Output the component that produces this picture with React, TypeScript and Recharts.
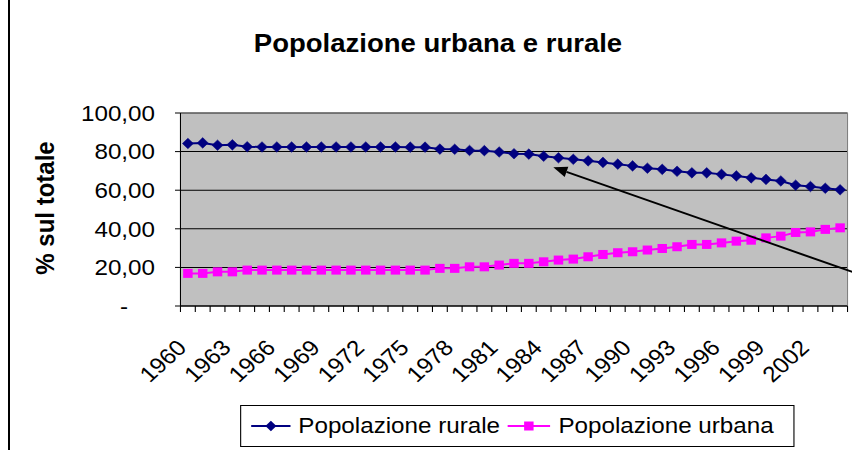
import React from 'react';
import { LineChart, Line, XAxis, YAxis, CartesianGrid, ReferenceLine, Legend } from 'recharts';

const years = [
  1960, 1961, 1962, 1963, 1964, 1965, 1966, 1967, 1968, 1969,
  1970, 1971, 1972, 1973, 1974, 1975, 1976, 1977, 1978, 1979,
  1980, 1981, 1982, 1983, 1984, 1985, 1986, 1987, 1988, 1989,
  1990, 1991, 1992, 1993, 1994, 1995, 1996, 1997, 1998, 1999,
  2000, 2001, 2002, 2003, 2004,
];
const rural = [
  84.2, 84.5, 83.3, 83.5, 82.5, 82.4, 82.4, 82.4, 82.4, 82.4,
  82.4, 82.4, 82.4, 82.4, 82.4, 82.3, 82.3, 81.3, 81.2, 80.6,
  80.5, 79.8, 78.9, 78.7, 77.6, 76.8, 76.0, 75.2, 74.4, 73.5,
  72.6, 71.4, 70.8, 69.8, 69.0, 69.0, 68.2, 67.4, 66.4, 65.6,
  64.8, 62.6, 61.9, 61.0, 60.2,
];
const urban = [
  16.9, 16.9, 17.7, 17.7, 18.6, 18.6, 18.6, 18.6, 18.6, 18.6,
  18.6, 18.6, 18.6, 18.6, 18.6, 18.6, 18.6, 19.5, 19.5, 20.3,
  20.3, 21.2, 22.1, 22.1, 22.9, 23.8, 24.3, 25.5, 26.7, 27.6,
  28.1, 29.0, 29.8, 30.7, 31.9, 31.9, 32.7, 33.6, 34.1, 35.3,
  36.2, 38.1, 38.4, 39.7, 40.5,
];
const labelYears = [1960, 1963, 1966, 1969, 1972, 1975, 1978, 1981, 1984, 1987, 1990, 1993, 1996, 1999, 2002];
const yTicks = [0, 20, 40, 60, 80, 100];

const titleText = 'Popolazione urbana e rurale';
const yTitle = '% sul totale';
const ruralName = 'Popolazione rurale';
const urbanName = 'Popolazione urbana';

const ruralColor = '#000080';
const urbanColor = '#FF00FF';
const FONT = '"Liberation Sans", Arial, Helvetica, sans-serif';

const data = years.map((year, i) => ({ year, rural: rural[i], urban: urban[i] }));
const boundaries = [...years.map((y) => y - 0.5), years[years.length - 1] + 0.5];
const xDomain: [number, number] = [years[0] - 0.5, years[years.length - 1] + 0.5];

const fmt = (v: number) => (v === 0 ? '-' : v.toFixed(2).replace('.', ','));

const Diamond = ({ cx, cy }: any) => {
  if (cx == null || cy == null) return null;
  const rx = 5;
  const ry = 5.3;
  return (
    <polygon
      points={`${cx},${cy - ry} ${cx + rx},${cy} ${cx},${cy + ry} ${cx - rx},${cy}`}
      fill={ruralColor}
      stroke={ruralColor}
      strokeWidth={0.5}
    />
  );
};

const Square = ({ cx, cy }: any) => {
  if (cx == null || cy == null) return null;
  return <rect x={cx - 4.3} y={cy - 4.5} width={8.6} height={9} fill={urbanColor} />;
};

const YTick = ({ x, y, payload }: any) => (
  <text
    x={payload.value === 0 ? x - 24.5 : x}
    y={y}
    dy="0.355em"
    textAnchor="end"
    fontSize={22}
    fill="#000"
    fontFamily={FONT}
  >
    {fmt(payload.value)}
  </text>
);

const XLabelTick = ({ x, y, payload }: any) => {
  const ty = y + 42;
  return (
    <text
      x={x}
      y={ty}
      transform={`rotate(-45, ${x}, ${ty})`}
      textAnchor="end"
      fontSize={22}
      fill="#000"
      fontFamily={FONT}
    >
      {payload.value}
    </text>
  );
};

// tick mark at each category boundary (drawn from the axis' own tick positions)
const BoundaryTick = ({ x, y }: any) => (
  <line x1={x} y1={y - 6} x2={x} y2={y} stroke="#000" strokeWidth={1} />
);

const YTitleLabel = (props: any) => {
  const vb = props.viewBox || {};
  const cx = (vb.x || 0) + 33.6;
  const cy = (vb.y || 0) + (vb.height || 0) / 2 - 1.5;
  return (
    <text
      x={cx}
      y={cy}
      dy="0.355em"
      transform={`rotate(-90, ${cx}, ${cy})`}
      textAnchor="middle"
      fontSize={24}
      fontWeight="bold"
      fill="#000"
      fontFamily={FONT}
    >
      {yTitle}
    </text>
  );
};

const LegendBox = () => (
  <div
    style={{
      width: '100%',
      height: '100%',
      boxSizing: 'border-box',
      border: '1px solid #000',
      background: '#fff',
      display: 'flex',
      alignItems: 'center',
      paddingLeft: 9,
      fontSize: 22,
      fontFamily: FONT,
      color: '#000',
      whiteSpace: 'nowrap',
    }}
  >
    <svg width={36} height={20} style={{ display: 'block' }}>
      <line x1={0} y1={10} x2={36} y2={10} stroke={ruralColor} strokeWidth={2} />
      <polygon points="18,4.7 23,10 18,15.3 13,10" fill={ruralColor} />
    </svg>
    <span style={{ marginLeft: 7 }}>{ruralName}</span>
    <svg width={39} height={20} style={{ display: 'block', marginLeft: 7 }}>
      <line x1={0} y1={10} x2={39} y2={10} stroke={urbanColor} strokeWidth={2} />
      <rect x={15.2} y={5.5} width={8.6} height={9} fill={urbanColor} />
    </svg>
    <span style={{ marginLeft: 7 }}>{urbanName}</span>
  </div>
);

export default function App() {
  // arrow annotation (image coordinates)
  const tip = { x: 553.3, y: 167.3 };
  const tail = { x: 862, y: 275.3 };
  const dx = tip.x - tail.x;
  const dy = tip.y - tail.y;
  const len = Math.sqrt(dx * dx + dy * dy);
  const ux = dx / len;
  const uy = dy / len;
  const headLen = 14;
  const headHalf = 5.5;
  const bx = tip.x - ux * headLen;
  const by = tip.y - uy * headLen;
  const px = -uy * headHalf;
  const py = ux * headHalf;

  return (
    <div
      style={{
        position: 'absolute',
        left: 0,
        top: 0,
        width: 852,
        height: 450,
        overflow: 'hidden',
        background: '#fff',
        fontFamily: FONT,
      }}
    >
      <div style={{ position: 'absolute', left: 8, top: 0, width: 2, height: 450, background: '#000' }} />
      <div
        style={{
          position: 'absolute',
          left: 8,
          top: 0,
          width: 780,
          height: 450,
          transform: 'scaleX(1.1)',
          transformOrigin: '0 0',
        }}
      >
        <LineChart
          width={780}
          height={450}
          data={data}
          margin={{ top: 113, right: 16.8, bottom: 83, left: 0 }}
        >
          <CartesianGrid
            xAxisId="grid"
            vertical={false}
            fill="#C0C0C0"
            fillOpacity={1}
            stroke="#000"
            strokeWidth={1}
          />
          <XAxis
            xAxisId="grid"
            dataKey="year"
            type="number"
            domain={xDomain}
            ticks={boundaries}
            interval={0}
            height={1}
            tick={BoundaryTick}
            tickSize={6}
            tickMargin={0}
            tickLine={false}
            axisLine={{ stroke: '#000' }}
            allowDataOverflow
          />
          <XAxis
            xAxisId="lab"
            dataKey="year"
            type="number"
            domain={xDomain}
            ticks={labelYears}
            interval={0}
            height={60}
            tickSize={0}
            tickMargin={0}
            tickLine={false}
            axisLine={false}
            tick={XLabelTick}
            allowDataOverflow
          />
          <YAxis
            domain={[0, 100]}
            ticks={yTicks}
            interval={0}
            width={156.8}
            tickSize={5}
            tickMargin={18.2}
            tick={YTick}
            tickLine={{ stroke: '#000' }}
            axisLine={{ stroke: '#000' }}
            label={YTitleLabel}
          />
          <ReferenceLine xAxisId="grid" y={100} stroke="#808080" strokeWidth={1} />
          <ReferenceLine xAxisId="grid" x={xDomain[1]} stroke="#808080" strokeWidth={1} />
          <Line
            xAxisId="grid"
            dataKey="rural"
            name={ruralName}
            stroke={ruralColor}
            strokeWidth={2}
            dot={(p: any) => <Diamond key={`r${p.index}`} cx={p.cx} cy={p.cy} />}
            activeDot={false}
            isAnimationActive={false}
          />
          <Line
            xAxisId="grid"
            dataKey="urban"
            name={urbanName}
            stroke={urbanColor}
            strokeWidth={2}
            dot={(p: any) => <Square key={`u${p.index}`} cx={p.cx} cy={p.cy} />}
            activeDot={false}
            isAnimationActive={false}
          />
          <Legend
            layout="vertical"
            align="center"
            verticalAlign="middle"
            content={LegendBox}
            wrapperStyle={{ left: 210.9, top: 405, width: 504.5, height: 42 }}
          />
        </LineChart>
        <div
          style={{
            position: 'absolute',
            left: 90.9,
            top: 31,
            width: 600,
            textAlign: 'center',
            fontSize: 25,
            fontWeight: 'bold',
            lineHeight: '25px',
            color: '#000',
            whiteSpace: 'nowrap',
          }}
        >
          {titleText}
        </div>
      </div>
      <svg
        width={852}
        height={450}
        style={{ position: 'absolute', left: 0, top: 0, pointerEvents: 'none' }}
      >
        <line x1={tail.x} y1={tail.y} x2={bx} y2={by} stroke="#000" strokeWidth={2} />
        <polygon
          points={`${tip.x},${tip.y} ${bx + px},${by + py} ${bx - px},${by - py}`}
          fill="#000"
        />
      </svg>
    </div>
  );
}
